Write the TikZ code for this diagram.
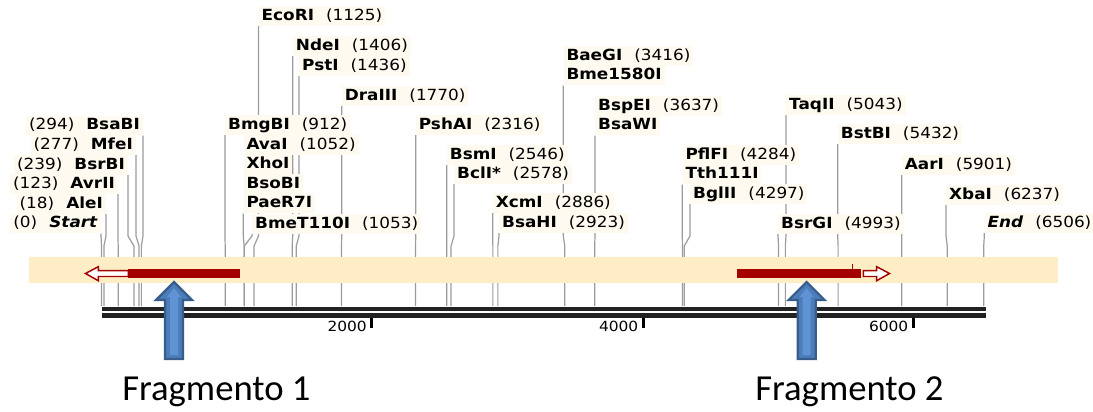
\documentclass[tikz,border=0pt]{standalone}
\usepackage{fontspec}
\newfontfamily\labfont[FakeStretch=1.1]{DejaVu Sans}
\newfontfamily\fragfont{Carlito}
\definecolor{labbg}{HTML}{FFFAF0}
\definecolor{band}{HTML}{FFEEC5}
\definecolor{linegray}{HTML}{9C9C9C}
\definecolor{featred}{HTML}{A50000}
\definecolor{barblack}{HTML}{222222}
\definecolor{arrfill}{HTML}{4A7DBA}
\definecolor{arrdraw}{HTML}{385D8A}
\definecolor{arrlight}{HTML}{5F93D3}
\pgfdeclarelayer{lines}
\pgfdeclarelayer{paper}
\pgfsetlayers{paper,lines,main}
\newcommand\sitel[2]{\draw[siteline] (#1) -- (#1 |- y236) -- ({101.5+0.1356*#2},246) -- ({101.5+0.1356*#2},306);}
\newcommand\nm[1]{\textbf{#1}}
\newcommand\gp{\hspace{9pt}}
\begin{document}
\begin{tikzpicture}[x=0.75pt,y=-0.75pt,
  lab/.style={font=\labfont\fontsize{11.5pt}{13pt}\selectfont, fill=labbg, inner xsep=2.2pt, inner ysep=1pt, text height=9.6pt, text depth=3pt},
  labR/.style={lab,anchor=west},
  labL/.style={lab,anchor=east},
  siteline/.style={draw=linegray,line width=0.9pt},
  hollow/.style={draw=featred, fill=white, line width=1.1pt, line join=miter},
  bigarrow/.style={fill=arrfill, draw=arrdraw, line width=1.6pt, line join=miter},
  ticklab/.style={font=\labfont\fontsize{10.5pt}{12pt}\selectfont, anchor=east, inner sep=0pt},
  frag/.style={font=\fragfont\fontsize{27.5pt}{30pt}\selectfont, anchor=base west, inner sep=0pt}]
\useasboundingbox (0,0) rectangle (1093,411);
\begin{pgfonlayer}{paper}
\fill[white] (0,0) rectangle (1093,411);
\end{pgfonlayer}
\coordinate (y236) at (0,236);

% left labels
\path
  node[labL] (bsabi) at (143,125.5) {(294)\gp\nm{BsaBI}}
  node[labL] (mfei) at (136,145) {(277)\gp\nm{MfeI}}
  node[labL] (bsrbi) at (128,165) {(239)\gp\nm{BsrBI}}
  node[labL] (avrii) at (118,184) {(123)\gp\nm{AvrII}}
  node[labL] (alei) at (106,204) {(18)\gp\nm{AleI}}
  node[labL] (start) at (101,223.5) {(0)\gp\textbf{\textit{Start}}};
% right labels
\path
  node[labR] (ecori) at (258.5,16) {\nm{EcoRI}\gp(1125)}
  node[labR] (ndei) at (292.7,46) {\nm{NdeI}\gp(1406)}
  node[labR] (psti) at (299,66) {\nm{PstI}\gp(1436)}
  node[labR] (draiii) at (341.7,96) {\nm{DraIII}\gp(1770)}
  node[labR] (bmgbi) at (225,125) {\nm{BmgBI}\gp(912)}
  node[labR] (avai) at (243.3,145) {\nm{AvaI}\gp(1052)}
  node[labR] (xhoi) at (243.3,164.5) {\nm{XhoI}}
  node[labR] (bsobi) at (243.3,184) {\nm{BsoBI}}
  node[labR] (paer7i) at (243.3,203.5) {\nm{PaeR7I}}
  node[labR] (bmet) at (252,224) {\nm{BmeT110I}\gp(1053)}
  node[labR] (pshai) at (415.7,125) {\nm{PshAI}\gp(2316)}
  node[labR] (bsmi) at (446.7,155) {\nm{BsmI}\gp(2546)}
  node[labR] (bcli) at (454,174) {\nm{BclI*}\gp(2578)}
  node[labR] (xcmi) at (492.7,203) {\nm{XcmI}\gp(2886)}
  node[labR] (bsahi) at (499,223) {\nm{BsaHI}\gp(2923)}
  node[labR] (baegi) at (563.3,56) {\nm{BaeGI}\gp(3416)}
  node[labR] (bme) at (563.3,75.5) {\nm{Bme1580I}}
  node[labR] (bspei) at (595,106) {\nm{BspEI}\gp(3637)}
  node[labR] (bsawi) at (595,125.5) {\nm{BsaWI}}
  node[labR] (pflfi) at (682.3,155) {\nm{PflFI}\gp(4284)}
  node[labR] (tth) at (682.3,174.5) {\nm{Tth111I}}
  node[labR] (bglii) at (690,194) {\nm{BglII}\gp(4297)}
  node[labR] (taqii) at (786,105) {\nm{TaqII}\gp(5043)}
  node[labR] (bstbi) at (837.7,134) {\nm{BstBI}\gp(5432)}
  node[labR] (bsrgi) at (778,224) {\nm{BsrGI}\gp(4993)}
  node[labR] (aari) at (901.7,165) {\nm{AarI}\gp(5901)}
  node[labR] (xbai) at (946,195) {\nm{XbaI}\gp(6237)}
  node[labR] (endl) at (984.3,223) {\textbf{\textit{End}}\gp(6506)};

% site lines (behind labels and band)
\begin{pgfonlayer}{lines}
\sitel{bsabi.south east}{294}
\sitel{mfei.south east}{277}
\sitel{bsrbi.south east}{239}
\sitel{avrii.south east}{123}
\sitel{alei.south east}{18}
\sitel{start.south east}{0}
\sitel{ecori.south west}{1125}
\sitel{ndei.south west}{1406}
\sitel{psti.south west}{1436}
\sitel{draiii.south west}{1770}
\sitel{bmgbi.south west}{912}
\sitel{paer7i.south west}{1052}
\sitel{bmet.south west}{1053}
\sitel{pshai.south west}{2316}
\sitel{bsmi.south west}{2546}
\sitel{bcli.south west}{2578}
\sitel{xcmi.south west}{2886}
\sitel{bsahi.south west}{2923}
\sitel{bme.south west}{3416}
\sitel{bsawi.south west}{3637}
\sitel{tth.south west}{4284}
\sitel{bglii.south west}{4297}
\sitel{taqii.south west}{5043}
\sitel{bstbi.south west}{5432}
\sitel{bsrgi.south west}{4993}
\sitel{aari.south west}{5901}
\sitel{xbai.south west}{6237}
\sitel{endl.south west}{6506}
\end{pgfonlayer}

% band
\fill[band] (29,256.7) rectangle (1058,283.3);
% feature 1 (reverse)
\fill[featred] (128.3,269.3) rectangle (240,277.5);
\draw[hollow] (85.5,273.5) -- (98.3,266.7) -- (98.3,270.7) -- (128.3,270.7) -- (128.3,276.5) -- (98.3,276.5) -- (98.3,280.7) -- cycle;
% feature 2 (forward)
\fill[featred] (736.7,269.3) rectangle (861,277.5);
\draw[featred, line width=0.8pt] (852.3,264) -- (852.3,269.3);
\draw[hollow] (889.5,273.5) -- (876.7,266.7) -- (876.7,270.7) -- (863.3,270.7) -- (863.3,276.5) -- (876.7,276.5) -- (876.7,280.7) -- cycle;

% scale bar
\fill[barblack] (101.7,306.7) rectangle (985.7,311);
\fill[barblack] (101.7,312.7) rectangle (985.7,317.7);
\fill[black] (370.3,317.7) rectangle (373.3,328);
\fill[black] (642,317.7) rectangle (645,328);
\fill[black] (912,317.7) rectangle (915,328);
\node[ticklab] (t2000) at (367,326) {2000};
\node[ticklab] (t4000) at (638.5,326) {4000};
\node[ticklab] (t6000) at (908.5,326) {6000};

% big arrows
\foreach \c in {174, 806.7} {
  \draw[bigarrow] (\c,282) -- (\c+18,300) -- (\c+9,300) -- (\c+9,359) -- (\c-9,359) -- (\c-9,300) -- (\c-18,300) -- cycle;
  \fill[arrlight] (\c,288) -- (\c+7,297) -- (\c+4,297) -- (\c+4,355) -- (\c-4,355) -- (\c-4,297) -- (\c-7,297) -- cycle;
}
\node[frag] (f1) at (122,400) {Fragmento 1};
\node[frag] (f2) at (755,400) {Fragmento 2};
\end{tikzpicture}
\end{document}
